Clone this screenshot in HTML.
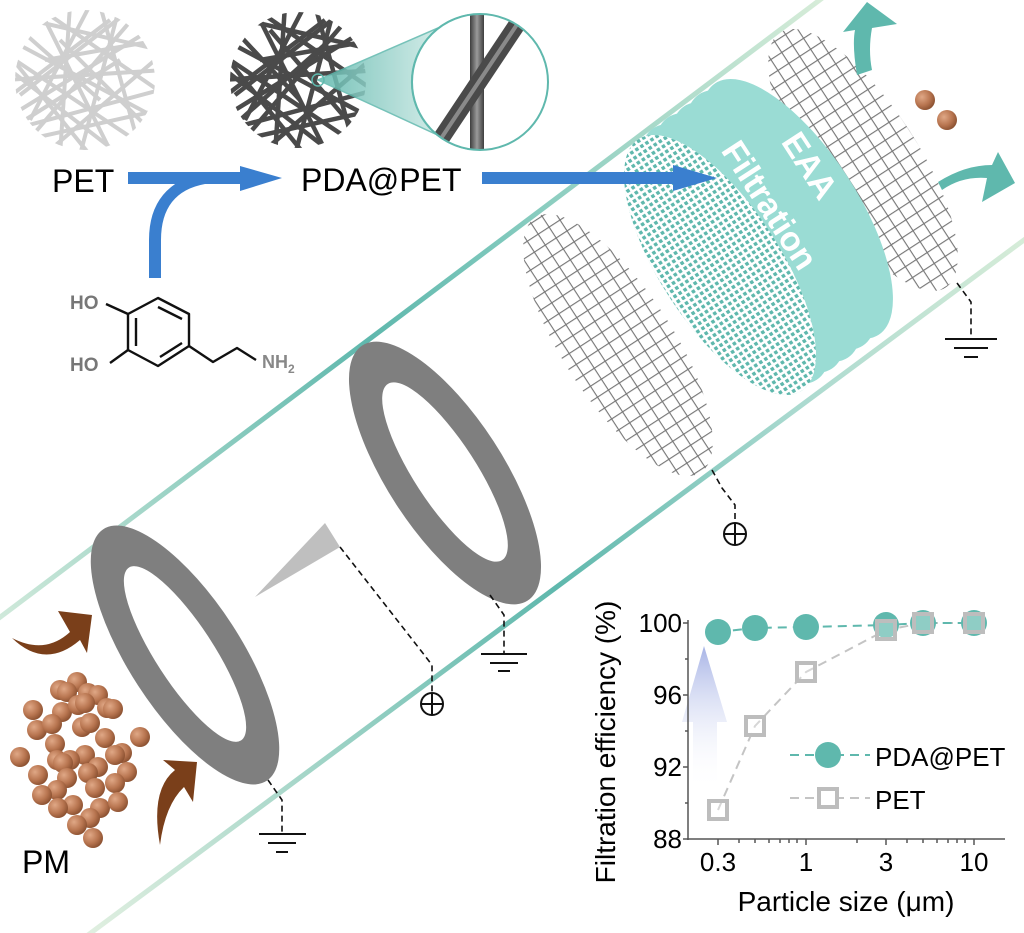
<!DOCTYPE html>
<html><head><meta charset="utf-8"><style>
html,body{margin:0;padding:0;background:#fff;}
svg{display:block;font-family:"Liberation Sans",sans-serif;}
</style></head><body>
<svg width="1024" height="933" viewBox="0 0 1024 933" xmlns="http://www.w3.org/2000/svg">
<defs>
<linearGradient id="tu" gradientUnits="userSpaceOnUse" x1="0" y1="617" x2="820" y2="0">
<stop offset="0" stop-color="#cfe9da"/><stop offset="0.45" stop-color="#5fb8ad"/><stop offset="0.6" stop-color="#7cc7bb"/><stop offset="1" stop-color="#d6ecd8"/></linearGradient>
<linearGradient id="tl" gradientUnits="userSpaceOnUse" x1="90" y1="933" x2="1024" y2="240">
<stop offset="0" stop-color="#e0efe0"/><stop offset="0.5" stop-color="#5fb8ad"/><stop offset="0.75" stop-color="#a9d9cf"/><stop offset="1" stop-color="#d6ecd8"/></linearGradient>
<pattern id="grid" width="13" height="13" patternUnits="userSpaceOnUse">
<path d="M0 0.5H13M0.5 0V13" stroke="#777" stroke-width="1.3" fill="none"/></pattern>
<pattern id="dots" width="6" height="6" patternUnits="userSpaceOnUse">
<rect x="0" y="0" width="3.5" height="3.5" fill="#5fb8ad"/><rect x="3" y="3" width="3" height="3" fill="#fff"/></pattern>
<radialGradient id="ball" cx="0.35" cy="0.35" r="0.7">
<stop offset="0" stop-color="#e0a886"/><stop offset="0.6" stop-color="#b87550"/><stop offset="1" stop-color="#8a5030"/></radialGradient>
<linearGradient id="cone" x1="0" y1="0" x2="1" y2="0">
<stop offset="0" stop-color="#5fb8ad"/><stop offset="1" stop-color="#e6f5f2"/></linearGradient>
<linearGradient id="barr" x1="0" y1="1" x2="0" y2="0">
<stop offset="0" stop-color="#fff" stop-opacity="0"/><stop offset="1" stop-color="#a8b4e6"/></linearGradient>
<clipPath id="c1"><circle cx="85" cy="80" r="70"/></clipPath>
<clipPath id="c2"><circle cx="298" cy="80" r="68"/></clipPath>
<clipPath id="c3"><circle cx="480" cy="82" r="68"/></clipPath>
<linearGradient id="fib" x1="0" y1="0" x2="1" y2="0">
<stop offset="0" stop-color="#3e3e3e"/><stop offset="0.5" stop-color="#9a9a9a"/><stop offset="1" stop-color="#3e3e3e"/></linearGradient>
</defs>

<!-- tube lines -->
<line x1="-5" y1="621" x2="825" y2="-4" stroke="url(#tu)" stroke-width="5"/>
<line x1="88" y1="935" x2="1028" y2="237" stroke="url(#tl)" stroke-width="5"/>

<!-- PET disc -->
<g clip-path="url(#c1)" stroke="#cfcfcf" stroke-width="4">
<line x1="10" y1="40" x2="160" y2="120"/><line x1="20" y1="110" x2="150" y2="30"/><line x1="40" y1="10" x2="110" y2="150"/>
<line x1="5" y1="80" x2="165" y2="70"/><line x1="70" y1="5" x2="60" y2="155"/><line x1="100" y1="5" x2="140" y2="150"/>
<line x1="15" y1="60" x2="150" y2="150"/><line x1="10" y1="130" x2="160" y2="90"/><line x1="30" y1="20" x2="160" y2="50"/>
<line x1="20" y1="95" x2="130" y2="10"/><line x1="50" y1="150" x2="155" y2="60"/><line x1="5" y1="50" x2="90" y2="155"/>
<line x1="120" y1="5" x2="80" y2="155"/><line x1="25" y1="140" x2="160" y2="110"/><line x1="35" y1="5" x2="165" y2="95"/>
<line x1="5" y1="100" x2="110" y2="20"/><line x1="140" y1="10" x2="20" y2="150"/><line x1="45" y1="60" x2="160" y2="40"/>
<line x1="10" y1="70" x2="120" y2="155"/><line x1="90" y1="5" x2="30" y2="120"/>
<line x1="15" y1="25" x2="100" y2="100"/><line x1="60" y1="40" x2="150" y2="130"/><line x1="25" y1="120" x2="120" y2="60"/>
</g>
<!-- PDA disc -->
<g clip-path="url(#c2)" stroke="#4a4a4a" stroke-width="4.5">
<line x1="225" y1="40" x2="375" y2="120"/><line x1="235" y1="110" x2="365" y2="30"/><line x1="255" y1="10" x2="325" y2="150"/>
<line x1="220" y1="80" x2="380" y2="70"/><line x1="285" y1="5" x2="275" y2="155"/><line x1="315" y1="5" x2="355" y2="150"/>
<line x1="230" y1="60" x2="365" y2="150"/><line x1="225" y1="130" x2="375" y2="90"/><line x1="245" y1="20" x2="375" y2="50"/>
<line x1="235" y1="95" x2="345" y2="10"/><line x1="265" y1="150" x2="370" y2="60"/><line x1="220" y1="50" x2="305" y2="155"/>
<line x1="335" y1="5" x2="295" y2="155"/><line x1="240" y1="140" x2="375" y2="110"/><line x1="250" y1="5" x2="380" y2="95"/>
<line x1="220" y1="100" x2="325" y2="20"/><line x1="355" y1="10" x2="235" y2="150"/><line x1="260" y1="60" x2="375" y2="40"/>
<line x1="225" y1="70" x2="335" y2="155"/><line x1="305" y1="5" x2="245" y2="120"/><line x1="230" y1="25" x2="300" y2="100"/>
<line x1="270" y1="30" x2="360" y2="135"/><line x1="240" y1="120" x2="330" y2="40"/>
</g>
<!-- magnifier -->
<path d="M318 80 L468 15 A68 68 0 0 0 468 149 Z" fill="url(#cone)" opacity="0.85" stroke="#5fb8ad" stroke-width="1.5"/>
<circle cx="318" cy="80" r="6" fill="none" stroke="#5fb8ad" stroke-width="1.5"/>
<circle cx="480" cy="82" r="68" fill="#fff"/>
<g clip-path="url(#c3)">
<rect x="470" y="10" width="14" height="145" fill="url(#fib)"/>
<line x1="440" y1="140" x2="520" y2="20" stroke="#4a4a4a" stroke-width="17"/>
<line x1="440" y1="140" x2="520" y2="20" stroke="#8a8a8a" stroke-width="4"/>
</g>
<circle cx="480" cy="82" r="68" fill="none" stroke="#5fb8ad" stroke-width="2"/>

<!-- texts -->
<text x="52" y="192" font-size="32" fill="#000">PET</text>
<text x="301" y="191" font-size="32" fill="#000">PDA@PET</text>

<!-- dopamine -->
<g stroke="#111" stroke-width="2.4" fill="none" stroke-linejoin="round">
<polygon points="158,298 189,314 189,346 158,366 128,350 128,314"/>
<line x1="158" y1="307" x2="182" y2="319"/><line x1="136" y1="318" x2="136" y2="346"/><line x1="160" y1="357" x2="182" y2="343"/>
<line x1="106" y1="304" x2="128" y2="314"/><line x1="110" y1="363" x2="128" y2="350"/>
<polyline points="189,346 213,362 237,348 256,360"/>
</g>
<text x="70" y="309" font-size="19" font-weight="bold" fill="#777">HO</text>
<text x="70" y="371" font-size="19" font-weight="bold" fill="#777">HO</text>
<text x="262" y="368" font-size="18" font-weight="bold" fill="#888">NH<tspan font-size="12" dy="5">2</tspan></text>

<!-- mesh 1 -->
<ellipse cx="618" cy="345" rx="152" ry="55" transform="rotate(57 618 345)" fill="url(#grid)"/>
<!-- mesh 3 -->
<ellipse cx="863" cy="160" rx="152" ry="55" transform="rotate(57 863 160)" fill="url(#grid)"/>
<!-- teal cylinder -->
<g fill="#9adcd4">
<ellipse cx="720" cy="265" rx="150" ry="60" transform="rotate(57 720 265)"/>
<ellipse cx="735" cy="254" rx="150" ry="60" transform="rotate(57 735 254)"/>
<ellipse cx="750" cy="243" rx="150" ry="60" transform="rotate(57 750 243)"/>
<ellipse cx="766" cy="232" rx="150" ry="60" transform="rotate(57 766 232)"/>
<ellipse cx="781" cy="220" rx="150" ry="60" transform="rotate(57 781 220)"/>
<ellipse cx="797" cy="209" rx="150" ry="60" transform="rotate(57 797 209)"/>
</g>
<ellipse cx="720" cy="265" rx="150" ry="60" transform="rotate(57 720 265)" fill="#fff"/>
<ellipse cx="720" cy="265" rx="150" ry="60" transform="rotate(57 720 265)" fill="url(#dots)"/>
<text transform="translate(800,172) rotate(57)" font-size="34" font-weight="bold" fill="#fff" text-anchor="middle">EAA</text>
<text transform="translate(770,205) rotate(57)" font-size="34" font-weight="bold" fill="#fff" text-anchor="middle" dy="12">Filtration</text>

<!-- blue arrows -->
<g fill="#3a7fcf">
<rect x="128" y="172" width="114" height="12"/>
<polygon points="240,166 282,178 240,191"/>
<path d="M149 278 L149 240 Q149 184 205 172 L215 172 L215 184 L205 184 Q161 192 161 240 L161 278 Z"/>
<rect x="482" y="172" width="193" height="12"/>
<polygon points="673,165 717,178 673,191"/>
</g>

<!-- teal arrows -->
<g fill="#5fb8ad">
<path d="M857 75 Q852 45 855 30 L843 32 L867 2 L897 24 L872 28 Q868 50 872 70 Z"/>
<path d="M938 182 Q965 165 992 165 L998 152 L1015 183 L982 202 L987 178 Q962 176 942 190 Z"/>
</g>
<circle cx="925" cy="100" r="10" fill="url(#ball)"/>
<circle cx="947" cy="120" r="10" fill="url(#ball)"/>

<!-- rings -->
<ellipse cx="185" cy="655" rx="150" ry="56" transform="rotate(57 185 655)" fill="#7f7f7f"/>
<ellipse cx="185" cy="654" rx="103" ry="29" transform="rotate(57 185 654)" fill="#fff"/>
<ellipse cx="445" cy="473" rx="152" ry="58" transform="rotate(57 445 473)" fill="#7f7f7f"/>
<ellipse cx="445" cy="472" rx="105" ry="31" transform="rotate(57 445 472)" fill="#fff"/>
<polygon points="255,597 325,523 340,547" fill="#bfbfbf"/>

<!-- wires -->
<g stroke="#111" stroke-width="1.6" fill="none" stroke-dasharray="6,4">
<polyline points="340,547 422,652 432,665 432,692"/>
<polyline points="268,780 282,800 282,833"/>
<polyline points="490,595 504,615 504,653"/>
<polyline points="957,283 971,302 971,338"/>
<polyline points="712,470 722,488 735,505 735,522"/>
</g>
<g stroke="#111" stroke-width="2" fill="none">
<circle cx="432" cy="704" r="11"/><line x1="421" y1="704" x2="443" y2="704"/><line x1="432" y1="693" x2="432" y2="715"/>
<circle cx="735" cy="534" r="11"/><line x1="724" y1="534" x2="746" y2="534"/><line x1="735" y1="523" x2="735" y2="545"/>
<line x1="259" y1="834" x2="306" y2="834"/><line x1="268" y1="843" x2="296" y2="843"/><line x1="276" y1="852" x2="288" y2="852"/>
<line x1="481" y1="654" x2="527" y2="654"/><line x1="490" y1="663" x2="518" y2="663"/><line x1="498" y1="671" x2="510" y2="671"/>
<line x1="945" y1="339" x2="997" y2="339"/><line x1="954" y1="348" x2="988" y2="348"/><line x1="964" y1="357" x2="978" y2="357"/>
</g>

<!-- brown arrows -->
<g fill="#7a3f1a">
<path d="M12 638 Q45 655 70 632 L58 611 L92 615 L87 653 L80 640 Q45 670 12 638 Z"/>
<path d="M160 845 Q150 790 175 770 L163 760 L197 762 L193 802 L184 787 Q165 805 160 845 Z"/>
</g>

<!-- PM particles -->
<g fill="url(#ball)">
<circle cx="77" cy="682" r="10"/><circle cx="60" cy="690" r="10"/><circle cx="67" cy="692" r="10"/><circle cx="88" cy="693" r="10"/><circle cx="98" cy="695" r="10"/>
<circle cx="33" cy="710" r="10"/><circle cx="62" cy="712" r="10"/><circle cx="78" cy="705" r="10"/><circle cx="85" cy="703" r="10"/><circle cx="107" cy="708" r="10"/><circle cx="113" cy="709" r="10"/>
<circle cx="37" cy="730" r="10"/><circle cx="52" cy="724" r="10"/><circle cx="82" cy="727" r="10"/><circle cx="90" cy="723" r="10"/><circle cx="140" cy="737" r="10"/>
<circle cx="105" cy="738" r="10"/><circle cx="55" cy="744" r="10"/><circle cx="20" cy="757" r="10"/><circle cx="85" cy="755" r="10"/><circle cx="122" cy="753" r="10"/><circle cx="115" cy="755" r="10"/>
<circle cx="57" cy="760" r="10"/><circle cx="70" cy="760" r="10"/><circle cx="63" cy="763" r="10"/><circle cx="38" cy="775" r="10"/><circle cx="98" cy="767" r="10"/><circle cx="127" cy="772" r="10"/>
<circle cx="67" cy="778" r="10"/><circle cx="88" cy="773" r="10"/><circle cx="95" cy="788" r="10"/><circle cx="57" cy="790" r="10"/><circle cx="115" cy="783" r="10"/><circle cx="42" cy="795" r="10"/>
<circle cx="73" cy="805" r="10"/><circle cx="58" cy="808" r="10"/><circle cx="100" cy="808" r="10"/><circle cx="118" cy="802" r="10"/><circle cx="90" cy="818" r="10"/><circle cx="77" cy="825" r="10"/><circle cx="93" cy="838" r="10"/>
</g>
<text x="22" y="873" font-size="32" fill="#000">PM</text>

<!-- chart -->
<polygon points="693,790 693,722 682,722 704,646 727,722 717,722 717,790" fill="url(#barr)"/>
<g stroke="#555" stroke-width="1.5" fill="none">
<line x1="688" y1="620" x2="688" y2="840"/><line x1="687" y1="839" x2="1005" y2="839"/>
<line x1="683" y1="623" x2="688" y2="623"/><line x1="683" y1="695" x2="688" y2="695"/><line x1="683" y1="767" x2="688" y2="767"/><line x1="683" y1="839" x2="688" y2="839"/>
<line x1="685" y1="659" x2="688" y2="659"/><line x1="685" y1="731" x2="688" y2="731"/><line x1="685" y1="803" x2="688" y2="803"/>
<line x1="718" y1="839" x2="718" y2="845"/><line x1="806" y1="839" x2="806" y2="845"/><line x1="886" y1="839" x2="886" y2="845"/><line x1="974" y1="839" x2="974" y2="845"/>
<line x1="739" y1="839" x2="739" y2="843"/><line x1="755" y1="839" x2="755" y2="843"/><line x1="769" y1="839" x2="769" y2="843"/><line x1="780" y1="839" x2="780" y2="843"/><line x1="789" y1="839" x2="789" y2="843"/><line x1="797" y1="839" x2="797" y2="843"/>
<line x1="857" y1="839" x2="857" y2="843"/><line x1="907" y1="839" x2="907" y2="843"/><line x1="923" y1="839" x2="923" y2="843"/><line x1="937" y1="839" x2="937" y2="843"/><line x1="948" y1="839" x2="948" y2="843"/><line x1="957" y1="839" x2="957" y2="843"/><line x1="965" y1="839" x2="965" y2="843"/>
</g>
<polyline points="718,810 755,726 806,672 886,630 923,623 974,623" fill="none" stroke="#c4c4c4" stroke-width="2" stroke-dasharray="9,6"/>
<polyline points="718,632 755,628 806,627 886,625 923,623 974,623" fill="none" stroke="#5fb8ad" stroke-width="2" stroke-dasharray="9,6"/>
<g fill="#5fb8ad">
<circle cx="718" cy="632" r="13"/><circle cx="755" cy="628" r="13"/><circle cx="806" cy="627" r="13"/><circle cx="886" cy="625" r="13"/><circle cx="923" cy="623" r="13"/><circle cx="974" cy="623" r="13"/>
</g>
<g fill="#fff" fill-opacity="0.3" stroke="#bdbdbd" stroke-width="4">
<rect x="709" y="801" width="18" height="18"/><rect x="746" y="717" width="18" height="18"/><rect x="797" y="663" width="18" height="18"/><rect x="877" y="621" width="18" height="18"/><rect x="914" y="614" width="18" height="18"/><rect x="965" y="614" width="18" height="18"/>
</g>
<line x1="790" y1="755" x2="870" y2="755" stroke="#5fb8ad" stroke-width="2" stroke-dasharray="9,6"/>
<circle cx="828" cy="755" r="13" fill="#5fb8ad"/>
<line x1="790" y1="798" x2="870" y2="798" stroke="#c4c4c4" stroke-width="2" stroke-dasharray="9,6"/>
<rect x="819" y="789" width="18" height="18" fill="#fff" stroke="#bdbdbd" stroke-width="4"/>
<text x="875" y="766" font-size="26" fill="#000">PDA@PET</text>
<text x="875" y="809" font-size="26" fill="#000">PET</text>
<g font-size="26" fill="#000" text-anchor="end">
<text x="682" y="632">100</text><text x="682" y="704">96</text><text x="682" y="776">92</text><text x="682" y="848">88</text>
</g>
<g font-size="26" fill="#000" text-anchor="middle">
<text x="718" y="871">0.3</text><text x="806" y="871">1</text><text x="886" y="871">3</text><text x="974" y="871">10</text>
</g>
<text x="846" y="911" font-size="28" text-anchor="middle" fill="#000">Particle size (μm)</text>
<text transform="translate(615,742) rotate(-90)" font-size="28" text-anchor="middle" fill="#000">Filtration efficiency (%)</text>
</svg>
</body></html>
